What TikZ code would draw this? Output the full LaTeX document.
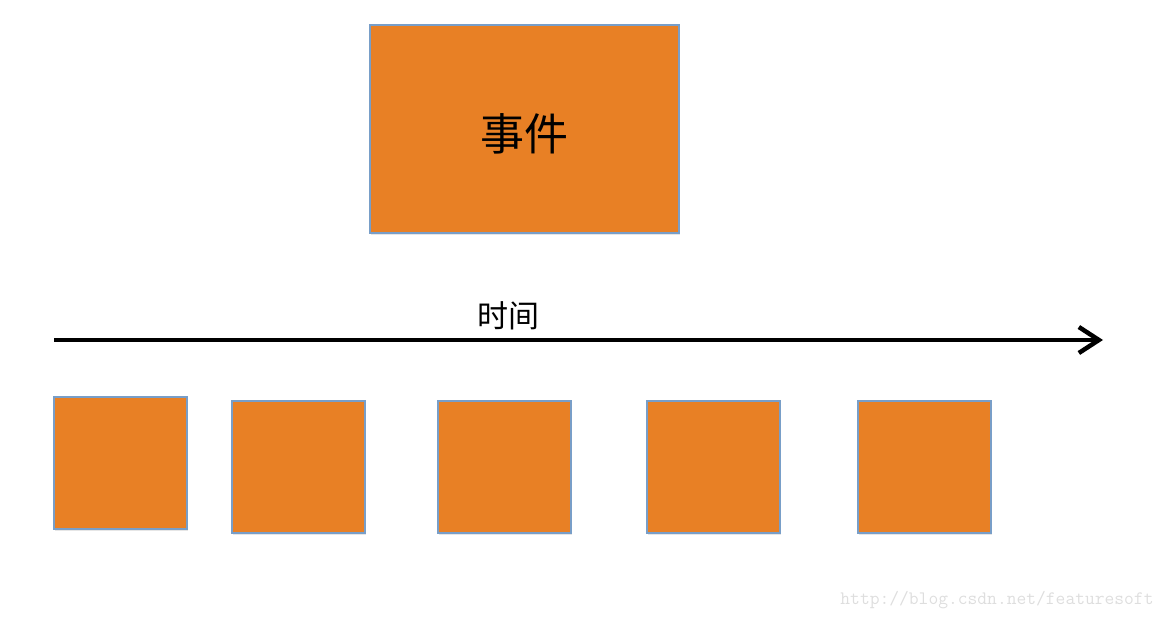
\documentclass[tikz,border=0pt]{standalone}
\usepackage{fontspec}
\usepackage{xcolor}
\usetikzlibrary{arrows.meta,shadows}
\newfontfamily\cjk{Noto Sans CJK SC}

\definecolor{boxOrange}{RGB}{232,128,37}
\definecolor{boxEdge}{RGB}{120,158,200}
\definecolor{markGray}{RGB}{222,222,222}

\tikzset{
    blockbox/.style={draw=boxEdge,line width=1.5pt,fill=boxOrange,inner sep=0pt,
        drop shadow={shadow xshift=1pt,shadow yshift=-2pt,opacity=0.2}},
    smallbox/.style={blockbox,minimum width=133pt,minimum height=132pt}
}

\begin{document}
\begin{tikzpicture}[x=1pt,y=-1pt]
    \pgfmathsetmacro{\axisY}{340}
    \pgfmathsetmacro{\boxY}{467}

    \useasboundingbox (0,0) rectangle (1168,620);

    % Ereignis
    \node[blockbox,minimum width=309pt,minimum height=208pt] (event) at (524.5,129)
        {\cjk\fontsize{44pt}{48pt}\selectfont\raisebox{-5pt}[\height][\depth]{事件}};

    % Zeitachse
    \coordinate (timeStart) at (54,\axisY);
    \coordinate (timeEnd) at (1103,\axisY);
    \draw[line width=4.5pt,-{Straight Barb[length=20pt,width=26pt,line width=4.5pt]}] (timeStart) -- (timeEnd);
    \node (timeLabel) at (508,316) {\cjk\fontsize{31pt}{34pt}\selectfont 时间};

    % Zeitabschnitte
    \node[smallbox] (slotA) at (120.5,463) {};
    \node[smallbox] (slotB) at (298.5,\boxY) {};
    \node[smallbox] (slotC) at (504.5,\boxY) {};
    \node[smallbox] (slotD) at (713.5,\boxY) {};
    \node[smallbox] (slotE) at (924.5,\boxY) {};

    % Wasserzeichen
    \node[color=markGray] (mark) at (997,600) {\ttfamily\fontsize{19pt}{21pt}\selectfont http://blog.csdn.net/featuresoft};
\end{tikzpicture}
\end{document}
